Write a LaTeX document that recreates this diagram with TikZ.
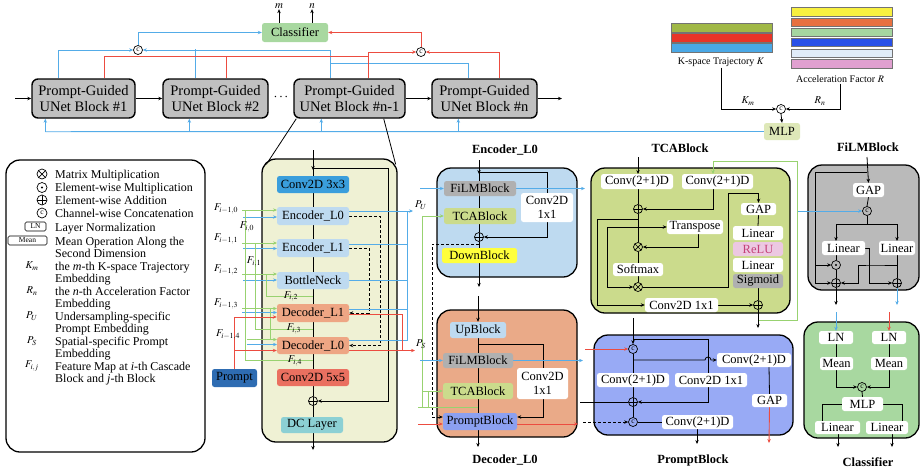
\documentclass[tikz,border=0pt]{standalone}
\usepackage{mathptmx}
\usepackage{fontspec}
\setmainfont{Liberation Serif}
\usetikzlibrary{arrows.meta,calc}

\definecolor{cgraytop}{RGB}{192,192,192}
\definecolor{cclsg}{RGB}{168,216,160}
\definecolor{cmlp}{RGB}{222,232,184}
\definecolor{cmain}{RGB}{239,241,212}
\definecolor{cconvA}{RGB}{58,158,220}
\definecolor{cenc}{RGB}{190,218,240}
\definecolor{cdec}{RGB}{238,166,132}
\definecolor{cconvB}{RGB}{234,112,96}
\definecolor{cdc}{RGB}{140,208,212}
\definecolor{cprompt}{RGB}{46,108,178}
\definecolor{cdecb}{RGB}{234,170,136}
\definecolor{ctca}{RGB}{203,219,140}
\definecolor{cyel}{RGB}{255,255,60}
\definecolor{cfilm}{RGB}{176,176,176}
\definecolor{cpb}{RGB}{140,160,240}
\definecolor{cpbb}{RGB}{152,170,245}
\definecolor{cfb}{RGB}{186,186,186}
\definecolor{cpink}{RGB}{236,200,226}
\definecolor{cpinkt}{RGB}{196,64,120}
\definecolor{cblue}{RGB}{84,172,232}
\definecolor{cred}{RGB}{236,76,64}
\definecolor{cgreen}{RGB}{152,210,112}
\definecolor{kA}{RGB}{160,184,70}
\definecolor{kB}{RGB}{232,52,40}
\definecolor{kC}{RGB}{74,168,230}
\definecolor{rA}{RGB}{248,240,64}
\definecolor{rB}{RGB}{232,112,64}
\definecolor{rC}{RGB}{166,214,160}
\definecolor{rD}{RGB}{40,80,232}
\definecolor{rE}{RGB}{224,236,248}
\definecolor{rF}{RGB}{224,160,208}

\pgfdeclarelayer{bgl}
\pgfdeclarelayer{frames}
\pgfdeclarelayer{wires}
\pgfsetlayers{bgl,frames,wires,main}

\tikzset{
  x=1pt, y=-1pt,
  blk/.style={draw=black, line width=0.8pt},
  bl/.style={draw=cblue, line width=0.9pt},
  rd/.style={draw=cred, line width=0.9pt},
  gr/.style={draw=cgreen, line width=0.9pt},
  dsh/.style={draw=black, line width=0.8pt, dash pattern=on 3pt off 2pt},
  tip/.style={-{Stealth[length=4pt,width=3.4pt]}},
  frame/.style={draw=black, line width=1.3pt, rounded corners=14pt},
  ublock/.style={draw=black, line width=1.4pt, rounded corners=6pt, fill=cgraytop,
    inner sep=0pt, align=center, font=\fontsize{14.5}{16.5}\selectfont},
  sb/.style={rounded corners=2.5pt, inner sep=0pt, align=center, font=\fontsize{12.5}{14}\selectfont},
  sbw/.style={sb, fill=white},
  ttl/.style={font=\bfseries\fontsize{12.5}{14}\selectfont},
  op/.style={circle, draw=black, line width=0.7pt, minimum size=9pt, inner sep=0pt},
  addop/.style={op, path picture={\draw[line width=0.7pt]
    (path picture bounding box.north) -- (path picture bounding box.south)
    (path picture bounding box.west) -- (path picture bounding box.east);}},
  mulop/.style={op, path picture={\draw[line width=0.7pt]
    (path picture bounding box.north west) -- (path picture bounding box.south east)
    (path picture bounding box.north east) -- (path picture bounding box.south west);}},
  dotop/.style={op, path picture={\fill (path picture bounding box.center) circle[radius=1.1pt];}},
  catop/.style={op, font=\fontsize{7.5}{7.5}\selectfont},
  flab/.style={font=\fontsize{10.5}{10.5}\selectfont, inner sep=0pt},
  leg/.style={anchor=base west, inner sep=0pt, font=\fontsize{12}{12.5}\selectfont},
  smallbox/.style={draw, line width=0.6pt, rounded corners=1.5pt, inner sep=0pt, font=\fontsize{7.5}{7.5}\selectfont},
  bar/.style={draw=black!55, line width=0.4pt},
}

% box from its corners: name, x1, y1, x2, y2, style, text
\newcommand\mkbox[7]{%
  \node[#6, minimum width={#4-#2}, minimum height={#5-#3}] (#1) at ({(#2+#4)/2},{(#3+#5)/2}) {#7};}

\begin{document}
\begin{tikzpicture}
\useasboundingbox (0,0) rectangle (920,475);
\begin{pgfonlayer}{bgl}
  \fill[white] (0,0) rectangle (920,475);
\end{pgfonlayer}

% ---------------- large frames ----------------
\begin{pgfonlayer}{frames}
  \mkbox{leg}{6}{160}{205}{452}{frame, fill=white}{}
  \mkbox{mb}{262}{159}{397}{442}{frame, fill=cmain}{}
  \mkbox{encb}{437}{168}{577}{277}{frame, fill=cenc}{}
  \mkbox{decb}{437}{310}{577}{437}{frame, fill=cdecb}{}
  \mkbox{tcab}{591}{168}{790}{313}{frame, fill=ctca}{}
  \mkbox{pbb}{594}{335}{793}{435}{frame, fill=cpbb}{}
  \mkbox{fb}{808}{165}{919}{290}{frame, fill=cfb}{}
  \mkbox{clb}{804}{322}{919}{438}{frame, fill=cclsg}{}
\end{pgfonlayer}

% ---------------- cascade row ----------------
\mkbox{u1}{32}{79}{135}{118}{ublock}{Prompt-Guided\\UNet Block \#1}
\mkbox{u2}{163}{79}{268}{118}{ublock}{Prompt-Guided\\UNet Block \#2}
\node[font=\bfseries\fontsize{14}{14}\selectfont] (dots) at (281,97) {$\cdots$};
\mkbox{u3}{294}{79}{405}{118}{ublock}{Prompt-Guided\\UNet Block \#n-1}
\mkbox{un}{432}{79}{537}{118}{ublock}{Prompt-Guided\\UNet Block \#n}
\coordinate (inA) at (15,98.5);
\coordinate (outA) at (562,98.5);

\mkbox{cls}{262}{23}{328}{42}{sb, fill=cclsg}{Classifier}
\node[font=\fontsize{11}{11}\selectfont, inner sep=0.5pt] (mlab) at (279,6) {$m$};
\node[font=\fontsize{11}{11}\selectfont, inner sep=0.5pt] (nlab) at (312,6) {$n$};
\node[catop] (c1) at (138,50) {c};
\node[catop] (c2) at (421,52) {c};

% ---------------- trajectory / acceleration ----------------
\draw[bar, fill=kA] (671,23.3) rectangle (772,31.7);
\draw[bar, fill=kB] (671,33.3) rectangle (772,41.7);
\draw[bar, fill=kC] (671,43.3) rectangle (772,51.7);
\draw[bar, fill=rA] (791,6.7) rectangle (892,15.7);
\draw[bar, fill=rB] (791,17.7) rectangle (892,25.7);
\draw[bar, fill=rC] (791,27.7) rectangle (892,35.7);
\draw[bar, fill=rD] (791,38.3) rectangle (892,46);
\draw[bar, fill=rE] (791,49) rectangle (892,57.3);
\draw[bar, fill=rF] (791,59.3) rectangle (892,67.7);
\node[font=\fontsize{10}{10}\selectfont, inner sep=1pt] (ktxt) at (721,62) {K-space Trajectory $K$};
\node[font=\fontsize{10}{10}\selectfont, inner sep=1pt] (rtxt) at (840,79) {Acceleration Factor $R$};
\node[catop] (c3) at (781,109) {c};
\node[flab] (kmlab) at (748,101) {$K_m$};
\node[flab] (rnlab) at (820,101) {$R_n$};
\mkbox{mlp}{764}{123}{800}{140}{sb, fill=cmlp}{MLP}

% ---------------- legend ----------------
\node[mulop, minimum size=10pt] (lgm) at (42,174) {};
\node[dotop, minimum size=10pt] (lgd) at (42,187.5) {};
\node[addop, minimum size=10pt] (lga) at (42,200) {};
\node[catop, minimum size=10pt] (lgc) at (42,213) {c};
\mkbox{lgln}{25}{222}{46}{231}{smallbox}{LN}
\mkbox{lgmean}{8}{236}{47}{245}{smallbox}{Mean}
\node[flab] (lgk) at (32,266) {$K_m$};
\node[flab] (lgr) at (32,291) {$R_n$};
\node[flab] (lgp) at (32,316) {$P_U$};
\node[flab] (lgs) at (32,341) {$P_S$};
\node[flab] (lgf) at (32,366) {$F_{i,j}$};
\node[leg] (t1) at (55,178) {Matrix Multiplication};
\node[leg] (t2) at (55,191.5) {Element-wise Multiplication};
\node[leg] (t3) at (55,204) {Element-wise Addition};
\node[leg] (t4) at (55,217) {Channel-wise Concatenation};
\node[leg] (t5) at (55,231) {Layer Normalization};
\node[leg] (t6) at (55,245) {Mean Operation Along the};
\node[leg] (t6b) at (55,257.5) {Second Dimension};
\node[leg] (t7) at (55,270) {the \textit{m}-th K-space Trajectory};
\node[leg] (t7b) at (55,282.5) {Embedding};
\node[leg] (t8) at (55,295) {the \textit{n}-th Acceleration Factor};
\node[leg] (t8b) at (55,307.5) {Embedding};
\node[leg] (t9) at (55,320) {Undersampling-specific};
\node[leg] (t9b) at (55,332.5) {Prompt Embedding};
\node[leg] (t10) at (55,345) {Spatial-specific Prompt};
\node[leg] (t10b) at (55,357.5) {Embedding};
\node[leg] (t11) at (55,370) {Feature Map at \textit{i}-th Cascade};
\node[leg] (t11b) at (55,382.5) {Block and \textit{j}-th Block};

% ---------------- prompt-guided UNet block ----------------
\mkbox{c33}{277}{176}{349}{193}{sb, fill=cconvA}{Conv2D 3x3}
\mkbox{e0}{277}{207}{349}{225}{sb, fill=cenc}{Encoder\_L0}
\mkbox{e1}{277}{239}{349}{257}{sb, fill=cenc}{Encoder\_L1}
\mkbox{bn}{277}{272}{349}{289}{sb, fill=cenc}{BottleNeck}
\mkbox{d1}{277}{304}{349}{322}{sb, fill=cdec}{Decoder\_L1}
\mkbox{d0}{277}{337}{349}{354}{sb, fill=cdec}{Decoder\_L0}
\mkbox{c55}{277}{369}{349}{386}{sb, fill=cconvB}{Conv2D 5x5}
\node[addop] (madd) at (313,401) {};
\mkbox{dc}{281}{417}{343}{433}{sb, fill=cdc}{DC Layer}
\mkbox{pr}{212}{369}{257}{387}{sb, fill=cprompt}{Prompt}
\node[flab] (fa0) at (226,209) {$F_{i-1,0}$};
\node[flab] (fa1) at (226,239) {$F_{i-1,1}$};
\node[flab] (fa2) at (226,270) {$F_{i-1,2}$};
\node[flab] (fa3) at (226,304) {$F_{i-1,3}$};
\node[flab] (fa4) at (228,335) {$F_{i-1,4}$};
\node[flab] (fb0) at (247,227) {$F_{i,0}$};
\node[flab] (fb1) at (254,262) {$F_{i,1}$};
\node[flab] (fb2) at (291,296.5) {$F_{i,2}$};
\node[flab] (fb3) at (294,329) {$F_{i,3}$};
\node[flab] (fb4) at (295,361) {$F_{i,4}$};
\node[flab] (pulab) at (421,205) {$P_U$};
\node[flab] (pslab) at (421,344) {$P_S$};

% ---------------- Encoder_L0 ----------------
\node[ttl] (enct) at (505,150) {Encoder\_L0};
\mkbox{ef}{444}{181}{516}{196}{sb, fill=cfilm}{FiLMBlock}
\mkbox{et}{444}{208}{516}{224}{sb, fill=ctca}{TCABlock}
\node[addop] (ea) at (479,237) {};
\mkbox{ed}{442}{248}{517}{263}{sb, fill=cyel}{DownBlock}
\mkbox{ec}{521}{193}{573}{222}{sbw}{Conv2D\\1x1}

% ---------------- Decoder_L0 ----------------
\node[ttl] (dect) at (505,460) {Decoder\_L0};
\mkbox{du}{450}{322}{506}{338}{sb, fill=cenc}{UpBlock}
\mkbox{df}{443}{353}{513}{368}{sb, fill=cfilm}{FiLMBlock}
\mkbox{dt}{443}{383}{513}{399}{sb, fill=ctca}{TCABlock}
\mkbox{dp}{443}{413}{517}{430}{sb, fill=cpb}{PromptBlock}
\mkbox{dcv}{517}{368}{568}{399}{sbw}{Conv2D\\1x1}

% ---------------- TCABlock ----------------
\node[ttl] (tcat) at (680,148) {TCABlock};
\mkbox{tc1}{601}{174}{673}{189}{sbw}{Conv(2+1)D}
\mkbox{tc2}{682}{174}{753}{189}{sbw}{Conv(2+1)D}
\node[addop] (ta1) at (638,209) {};
\node[mulop] (tm1) at (638,247) {};
\mkbox{ttr}{667}{220}{723}{234}{sbw}{Transpose}
\mkbox{tsm}{613}{263}{663}{276}{sbw}{Softmax}
\node[mulop] (tm2) at (638,287) {};
\mkbox{tgap}{741}{203}{776}{215}{sbw}{GAP}
\mkbox{tl1}{733}{226}{783}{240}{sbw}{Linear}
\mkbox{trelu}{733}{242}{783}{256}{sb, fill=cpink, text=cpinkt}{ReLU}
\mkbox{tl2}{733}{258}{783}{272}{sbw}{Linear}
\mkbox{tsig}{733}{274}{783}{288}{sb, fill=cfilm}{Sigmoid}
\node[addop] (ta2) at (758,305) {};
\mkbox{tcv}{645}{298}{718}{312}{sbw}{Conv2D 1x1}

% ---------------- PromptBlock ----------------
\node[ttl] (pbt) at (693,460) {PromptBlock};
\node[catop] (pc1) at (633,349) {c};
\mkbox{pcl}{597}{373}{669}{387}{sbw}{Conv(2+1)D}
\mkbox{pc11}{675}{373}{747}{387}{sbw}{Conv2D 1x1}
\mkbox{pcr}{717}{353}{791}{367}{sbw}{Conv(2+1)D}
\node[addop] (pa) at (633,402) {};
\node[catop] (pc2) at (633,422) {c};
\mkbox{pcb}{662}{415}{733}{429}{sbw}{Conv(2+1)D}
\mkbox{pgap}{752}{394}{787}{407}{sbw}{GAP}

% ---------------- FiLMBlock ----------------
\node[ttl] (fbt) at (868,147) {FiLMBlock};
\mkbox{fgap}{853}{183}{884}{197}{sbw}{GAP}
\node[catop] (fc) at (867,211) {c};
\mkbox{fl1}{822}{241}{865}{255}{sbw}{Linear}
\mkbox{fl2}{879}{241}{915}{255}{sbw}{Linear}
\node[dotop] (fm) at (836,265) {};
\node[addop] (fa1o) at (836,283) {};
\node[addop] (fa2o) at (897,283) {};

% ---------------- Classifier ----------------
\node[ttl] (clt) at (868,462) {Classifier};
\mkbox{cln1}{819}{331}{853}{344}{sbw}{LN}
\mkbox{cln2}{872}{331}{906}{344}{sbw}{LN}
\mkbox{cme1}{820}{357}{853}{370}{sbw}{Mean}
\mkbox{cme2}{871}{357}{907}{370}{sbw}{Mean}
\node[catop] (cc) at (862,387) {c};
\mkbox{cmlp}{842}{397}{883}{411}{sbw}{MLP}
\mkbox{clin1}{815}{421}{860}{434}{sbw}{Linear}
\mkbox{clin2}{866}{421}{908}{434}{sbw}{Linear}

% ================= connectors =================
\begin{pgfonlayer}{wires}
% cascade flow
\draw[blk, line width=1.1pt, tip] (inA) -- (u1.west);
\draw[blk, line width=1.1pt, tip] (u1.east) -- (u2.west);
\draw[blk, line width=1.1pt, tip] (u3.east) -- (un.west);
\draw[blk, line width=1.1pt, tip] (un.east) -- (outA);
\draw[blk, tip] (cls.north -| mlab) -- (mlab.south);
\draw[blk, tip] (cls.north -| nlab) -- (nlab.south);
% undersampling prompt collection (blue)
\draw[bl, tip] ($(u1.north west)+(27,0)$) |- (c1.west);
\draw[bl, tip] ($(u3.north)+(-19.5,0)$) |- (c1.east);
\draw[bl] ($(u2.north)+(-20.5,0)$) -- ($(u2.north)+(-20.5,-29.5)$);
\draw[bl] ($(u3.north)+(-19.5,-15)$) -| ($(un.north)+(-16,0)$);
\draw[bl, tip] (c1.north) |- (cls.west);
% spatial prompt collection (red)
\draw[rd] ($(u1.north)+(20.5,0)$) |- ($(u3.north)+(18.5,-22)$);
\draw[rd] ($(u2.north)+(10.5,0)$) -- ($(u2.north)+(10.5,-22)$);
\draw[rd, tip] ($(u3.north)+(18.5,0)$) |- (c2.west);
\draw[rd, tip] ($(un.north)+(15,0)$) |- (c2.east);
\draw[rd, tip] (c2.north) |- (cls.east);
% prompt embedding bus
\draw[bl] (mlp.west) -- ($(u1.south west)+(14,13)$);
\draw[bl, tip] ($(u1.south west)+(14,13)$) -- ($(u1.south west)+(14,0)$);
\draw[bl, tip] ($(u2.south west)+(27,13)$) -- ($(u2.south west)+(27,0)$);
\draw[bl, tip] ($(u3.south west)+(28,13)$) -- ($(u3.south west)+(28,0)$);
\draw[bl, tip] ($(un.south west)+(27,13)$) -- ($(un.south west)+(27,0)$);
\draw[blk, tip] (ktxt.south) |- (c3.west);
\draw[blk, tip] (rtxt.south) |- (c3.east);
\draw[blk, tip] (c3.south) -- (mlp.north);
% zoom lines
\draw[blk] ($(u3.south west)+(3,0)$) -- ($(mb.north west)+(5,6)$);
\draw[blk] ($(u3.south east)+(-22,0)$) -- ($(mb.north east)+(-2,6)$);

% UNet block backbone
\draw[blk, tip] (313,150) -- (313,170);
\draw[blk] (313,168) -- (madd.north);
\draw[blk, tip] (313,168) -| (388,401) -- (madd.east);
\draw[blk, tip] (madd.south) -- (313,450);
\draw[dsh, tip] (e0.east) -| ($(d0.east)+(31,0)$) -- (d0.east);
\draw[dsh, tip] (e1.east) -| ($(d1.east)+(20,0)$) -- (d1.east);
% inputs from previous cascade
\draw[gr, tip] (242,210) -- (277,210);
\draw[bl, tip] (243,217) -- (277,217);
\draw[gr, tip] (242,243) -- (277,243);
\draw[bl, tip] (243,248.5) -- (277,248.5);
\draw[gr, tip] (242,274) -- (277,274);
\draw[bl, tip] (243,280) -- (277,280);
\draw[gr, tip] (242,308.5) -- (277,308.5);
\draw[bl, tip] (242,312.5) -- (277,312.5);
\draw[gr, tip] (247,339.5) -- (277,339.5);
\draw[bl, tip] (247,344.5) -- (277,344.5);
% current cascade features
\draw[gr] (245,210) -- (245,360) -- (313,360);
\draw[gr] (255,243) -- (255,329) -- (313,329);
\draw[gr] (266,274) -- (266,296) -- (313,296);
\draw[gr] (270,308.5) -- (270,339.5);
% prompt input
\draw[rd, tip] (pr.north) |- ($(d1.west)+(0,4)$);
\draw[rd, tip] (234.5,350.5) -- ($(d0.west)+(0,5)$);
% undersampling-specific prompt outputs
\draw[bl, tip] ($(e0.east)+(0,-5)$) -- (413,211);
\draw[bl] ($(e1.east)+(0,-4)$) -- (407,244);
\draw[bl] (bn.east) -- (407,280.5);
\draw[bl] ($(d1.east)+(0,-4)$) -- (407,309);
\draw[bl] ($(d0.east)+(0,-5.5)$) -| (407,211);
% spatial-specific prompt outputs
\draw[rd] ($(d1.east)+(0,1)$) -| (402,350.5);
\draw[rd, tip] ($(d0.east)+(0,5)$) -- (415,350.5);

% Encoder_L0 internals
\draw[blk, tip] (479,160) -- (479,174);
\draw[blk] (479,172) -- (ea.north);
\draw[blk, tip] (479,172) -| (547,237) -- (ea.east);
\draw[blk, tip] (ea.south) -- (479,287);
\draw[bl, tip] (420,188.5) -- (ef.west);
\draw[bl, tip] (ef.east) -- (585,188.5);
\draw[gr] (422,216) -- (422,407);
\draw[gr, tip] (422,216) -- (et.west);
\draw[dsh, tip] (479,244) -| (432,417) -- ($(dp.west)+(0,-4.5)$);

% Decoder_L0 internals
\draw[blk, tip] (478,296) -- (du.north);
\draw[blk] (478,338) -- (478,413);
\draw[blk, tip] (478,344) -| (543,417) -- ($(dp.east)+(0,-4.5)$);
\draw[blk, tip] (478,430) -- (478,447);
\draw[bl, tip] (420,360.5) -- (df.west);
\draw[bl, tip] (df.east) -- (583,360.5);
\draw[gr, tip] (422,391) -- (dt.west);
\draw[gr] (418,407) -- (478,407);
\draw[gr] (428,391) -- (428,407);
\draw[rd, tip] (418,424) -- ($(dp.west)+(0,2.5)$);
\draw[rd, tip] ($(dp.east)+(0,2.5)$) -- (578,424);

% TCABlock internals
\draw[blk, tip] (638,157) -- (638,174);
\draw[gr, tip] (758,320) -| (797,161) -| (713,174);
\draw[blk] (638,189) -- (ta1.north);
\draw[blk, tip] (713,189) |- (ta1.east);
\draw[blk] (ta1.south) -- (tm1.north);
\draw[blk, tip] (638,219) -| (597,305) -- (tcv.west);
\draw[blk, tip] (607,227) -- (ttr.west);
\draw[blk, tip] (607,227) -- (607,287) -- (tm2.west);
\draw[blk, tip] (698,234) |- (tm1.east);
\draw[blk] (tm1.south) -- (638,263);
\draw[blk] (638,276) -- (tm2.north);
\draw[blk, tip] (tm2.east) -| (728,193) -| (tgap.north);
\draw[blk] (tgap.south) -- (758,226);
\draw[blk] (758,288) -- (ta2.north);
\draw[blk, tip] (tcv.east) -- (ta2.west);
\draw[blk, tip] (ta2.south) -- (758,328);

% PromptBlock internals
\draw[blk, tip] (633,318) -- (pc1.north);
\draw[rd, tip] (585,349) -- (pc1.west);
\draw[blk, tip] (633,339) -| (708,402) -- (pa.east);
\draw[blk] (pc1.south) -- (pa.north);
\draw[blk, tip] (633,360) -- (705,360) arc[start angle=180, end angle=360, radius=3] -- (pcr.west);
\draw[blk] (769,367) -- (pgap.north);
\draw[rd, tip] (pgap.south) -- (769,443);
\draw[blk] (pa.south) -- (pc2.north);
\draw[blk] (580,402) -- (pa.west);
\draw[dsh, tip] (583,422) -- (pc2.west);
\draw[blk] (pc2.east) -- (pcb.west);
\draw[blk, tip] (697,429) -- (697,444);

% FiLMBlock internals
\draw[blk, tip] (867,157) -- (fgap.north);
\draw[blk, tip] (867,172) -| (815,283) -- (fa1o.west);
\draw[blk, tip] (815,265) -- (fm.west);
\draw[blk] (fgap.south) -- (fc.north);
\draw[bl, tip] (798,211) -- (fc.west);
\draw[blk] (fc.south) -- (867,224);
\draw[blk, tip] (867,224) -| (836,241);
\draw[blk, tip] (867,224) -| (897,241);
\draw[blk] (836,255) -- (fm.north);
\draw[blk] (fm.south) -- (fa1o.north);
\draw[blk, tip] (fa1o.south) -- (836,305);
\draw[blk] (897,255) -- (fa2o.north);
\draw[blk, tip] (897,265) -- (873,265) -| (858,283) -- (fa1o.east);
\draw[blk, tip] (fl1.east) -| (869,283) -- (fa2o.west);
\draw[bl, tip] (fa2o.south) -- (897,305);

% Classifier internals
\draw[bl, tip] (836,312) -- (cln1.north);
\draw[rd, tip] (889,312) -- (cln2.north);
\draw[blk] (836,344) -- (836,357);
\draw[blk] (889,344) -- (889,357);
\draw[blk, tip] (836,370) |- (cc.west);
\draw[blk, tip] (889,370) |- (cc.east);
\draw[blk] (cc.south) -- (cmlp.north);
\draw[blk] (cmlp.west) -| (822,421);
\draw[blk] (cmlp.east) -| (902,421);
\draw[blk, tip] (838,434) -- (838,447);
\draw[blk, tip] (892,434) -- (892,447);
\end{pgfonlayer}
\end{tikzpicture}
\end{document}
